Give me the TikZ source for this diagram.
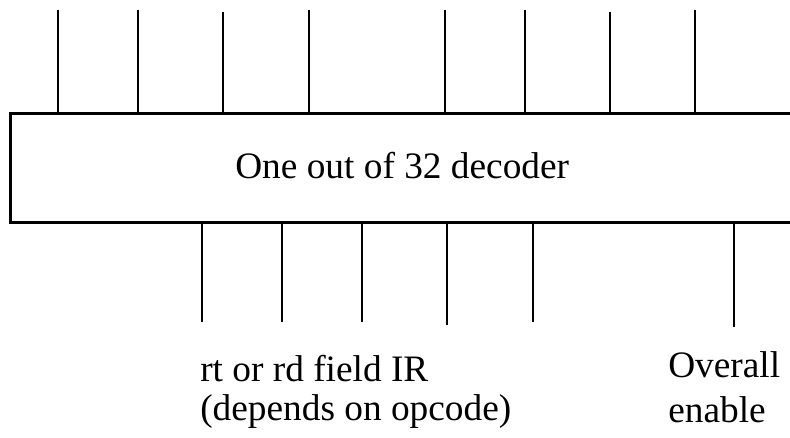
\documentclass[tikz,border=0pt]{standalone}
\usepackage{fontspec}
\setmainfont{Liberation Serif}
\begin{document}
\begin{tikzpicture}[x=0.75pt,y=-0.75pt,
  wire/.style={line width=2pt},
  label/.style={font=\fontsize{28}{33}\selectfont, inner sep=0pt, anchor=base west}]
\useasboundingbox (0,0) rectangle (790,438);
\clip (0,0) rectangle (790,438);
% decoder body, running off the right edge
\node[draw, line width=2pt, minimum width=592pt, minimum height=81.75pt,
      inner sep=0pt] (dec) at (405.25,168) {};
\node[label] (title) at (235,179) {One out of 32 decoder};
% output lines on top
\foreach \x/\yt [count=\i] in {58/10,138/10,223/12.5,309/10,445/10,525/10,610/12.5,695/10} {
  \coordinate (t\i) at (\x,\yt);
  \draw[wire] (t\i) -- (t\i |- dec.north);
}
% select and enable inputs below
\foreach \x/\yb [count=\i] in {202/322,282/322,362/322,447/325,533/322,734/327} {
  \coordinate (b\i) at (\x,\yb);
  \draw[wire] (b\i) -- (b\i |- dec.south);
}
\node[label] (field) at (200,382) {rt or rd field IR};
\node[label] (dep) at (200,421) {(depends on opcode)};
\node[label] (over) at (668,378) {Overall};
\node[label] (enab) at (668,423) {enable};
\end{tikzpicture}
\end{document}
